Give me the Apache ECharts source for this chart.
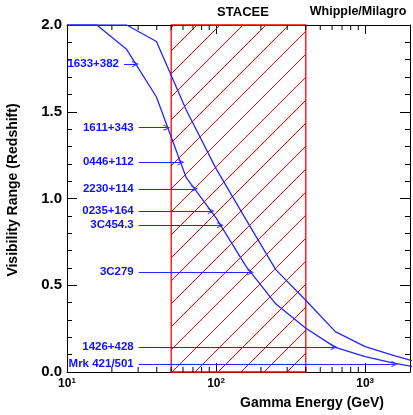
<!DOCTYPE html>
<html><head><meta charset="utf-8">
<script src="https://cdn.jsdelivr.net/npm/echarts@6/dist/echarts.min.js"></script>
<style>html,body{margin:0;padding:0;background:#fff}#c{width:413px;height:415px}</style>
</head><body><div id="c"></div>
<script>
// ---- data ----
const energyGeV   = [10, 15.85, 25.12, 39.81, 63.1, 100, 158.5, 251.2, 398.1, 631, 1000, 1585, 2512];
const lowerCurve  = [2.0, 2.0, 1.86, 1.585, 1.12, 0.888, 0.61, 0.393, 0.254, 0.142, 0.088, 0.050, 0.02];
const upperCurve  = [2.0, 2.0, 2.0, 1.905, 1.51, 1.172, 0.88, 0.59, 0.415, 0.233, 0.146, 0.093, 0.045];
const staceeRange = [50, 400];
const sourceNames    = ['1633+382','1611+343','0446+112','2230+114','0235+164','3C454.3','3C279','1426+428','Mrk 421/501'];
const sourceRedshift = [1.775, 1.408, 1.209, 1.056, 0.928, 0.846, 0.575, 0.144, 0.046];
const arrowStartGeV  = [24.1, 30.3, 30.3, 30.3, 30.3, 30.3, 30.3, 30.3, 30.3];
const arrowTipGeV    = [28.8, 46.7, 58.1, 71.8, 92.5, 106.6, 169.8, 618, 1578];
const xMinorTicks = [20,30,40,50,60,70,80,90,200,300,400,500,600,700,800,900];
const yTickLabels = ['0.0','0.5','1.0','1.5','2.0'];
const xRange = [10, 2000];
const yRange = [0, 2];

const FONT = "'Liberation Sans', Arial, sans-serif";
const BLUE = '#2424ff';
const RED = '#ff0000';
const HATCH_STEP = 23;   // px between hatch lines (horizontal)
const HATCH_PHASE = 15;  // (x + y) mod step

const chart = echarts.init(document.getElementById('c'), null, {renderer: 'canvas'});

function xLabel(v) {
  const e = Math.log10(v);
  if (Math.abs(e - Math.round(e)) > 1e-6) return '';
  return '{b|10}{s|' + Math.round(e) + '}';
}

const arrowData = sourceNames.map((n, i) => [
  {name: n, coord: [arrowStartGeV[i], sourceRedshift[i]]},
  {coord: [arrowTipGeV[i], sourceRedshift[i]]}
]);

const commonX = {
  type: 'log', logBase: 10, min: xRange[0], max: xRange[1],
  axisLine: {show: true, onZero: false, lineStyle: {color: '#000', width: 1}},
  axisTick: {show: true, inside: true, length: 9, lineStyle: {color: '#000'}},
  splitLine: {show: false}, minorTick: {show: false}
};
const commonY = {
  type: 'value', min: yRange[0], max: yRange[1], interval: 0.5,
  axisLine: {show: true, lineStyle: {color: '#000', width: 1}},
  axisTick: {show: true, inside: true, length: 10, lineStyle: {color: '#000'}},
  minorTick: {show: true, splitNumber: 5, length: 5, lineStyle: {color: '#000'}},
  splitLine: {show: false}, minorSplitLine: {show: false}
};

// pixel-exact (aliased) diagonal hatching inside the band
function renderHatch(params, api) {
  const p0 = api.coord([api.value(0), yRange[0]]);
  const p1 = api.coord([api.value(1), yRange[1]]);
  const x0 = p0[0], x1 = p1[0], yb = Math.round(p0[1]), yt = Math.round(p1[1]);
  let d = '';
  const cStart = Math.floor((x0 + yt) / HATCH_STEP) * HATCH_STEP + HATCH_PHASE - HATCH_STEP;
  for (let c = cStart; c <= x1 + yb + HATCH_STEP; c += HATCH_STEP) {
    for (let j = yt; j < yb; j++) {
      const i = c - 1 - j;
      if (i + 0.5 >= x0 && i + 0.5 <= x1) d += 'M' + i + ' ' + j + 'h1v1h-1z';
    }
  }
  return {type: 'group', children: [
    {type: 'path', shape: {pathData: d}, style: {fill: RED, stroke: null}},
    {type: 'rect', shape: {x: x0, y: p1[1], width: x1 - x0, height: p0[1] - p1[1]},
     style: {fill: null, stroke: RED, lineWidth: 1.3}}
  ]};
}

chart.setOption({
  animation: false,
  backgroundColor: '#fff',
  grid: {left: 67, top: 25, width: 348.6, height: 347, containLabel: false},
  xAxis: [
    Object.assign({}, commonX, {position: 'bottom',
      axisLabel: {show: true, margin: 5, formatter: xLabel,
        rich: {b: {fontSize: 12, fontWeight: 'bold', fontFamily: FONT, color: '#000', lineHeight: 14},
               s: {fontSize: 8, fontWeight: 'bold', fontFamily: FONT, color: '#000', verticalAlign: 'top', lineHeight: 9}}}}),
    Object.assign({}, commonX, {position: 'top', axisLabel: {show: false}})
  ],
  yAxis: [
    Object.assign({}, commonY, {position: 'left',
      axisLabel: {show: true, margin: 5, fontSize: 15, fontWeight: 'bold', fontFamily: FONT, color: '#000',
        formatter: v => yTickLabels[Math.round(v / 0.5)]}}),
    Object.assign({}, commonY, {position: 'right', axisLabel: {show: false}})
  ],
  graphic: [
    {type: 'text', x: 243, y: 12, silent: true, style: {text: 'STACEE', fontSize: 13, fontWeight: 'bold', fontFamily: FONT, fill: '#000', align: 'center', verticalAlign: 'middle'}},
    {type: 'text', x: 358, y: 12, silent: true, style: {text: 'Whipple/Milagro', fontSize: 12.5, fontWeight: 'bold', fontFamily: FONT, fill: '#000', align: 'center', verticalAlign: 'middle'}},
    {type: 'text', x: 312, y: 403, silent: true, style: {text: 'Gamma Energy (GeV)', fontSize: 14, fontWeight: 'bold', fontFamily: FONT, fill: '#000', align: 'center', verticalAlign: 'middle'}},
    {type: 'text', x: 13, y: 190, rotation: Math.PI / 2, silent: true, style: {text: 'Visibility Range (Redshift)', fontSize: 14, fontWeight: 'bold', fontFamily: FONT, fill: '#000', align: 'center', verticalAlign: 'middle'}}
  ],
  series: [
    {
      name: 'STACEE band', type: 'custom', z: 1, silent: true, clip: false,
      xAxisIndex: 0, yAxisIndex: 0,
      data: [[staceeRange[0], staceeRange[1]]],
      encode: {x: [0, 1]},
      renderItem: renderHatch
    },
    {
      name: 'upper', type: 'line', z: 3, symbol: 'none', silent: true, clip: true,
      lineStyle: {color: BLUE, width: 1.3},
      data: energyGeV.map((e, i) => [e, upperCurve[i]])
    },
    {
      name: 'lower', type: 'line', z: 3, symbol: 'none', silent: true, clip: true,
      lineStyle: {color: BLUE, width: 1.3},
      data: energyGeV.map((e, i) => [e, lowerCurve[i]]),
      markLine: {
        silent: true,
        symbol: ['none', 'path://M5,0 L10,9 L8.6,9.7 L5,2.8 L1.4,9.7 L0,9 Z'],
        symbolSize: [6, 7],
        precision: 6,
        lineStyle: {color: BLUE, width: 1, type: 'solid'},
        label: {show: true, position: 'start', distance: 5, formatter: '{b}', color: '#1010ff',
          fontSize: 11.5, fontWeight: 'bold', fontFamily: FONT},
        emphasis: {disabled: true},
        data: arrowData
      }
    },
    {
      name: 'minorTicks', type: 'custom', z: 5, silent: true, clip: false,
      xAxisIndex: 0, yAxisIndex: 0,
      data: xMinorTicks.map(v => [v, 0]),
      encode: {x: 0, y: 1},
      renderItem: function (params, api) {
        const v = api.value(0);
        const b = api.coord([v, yRange[0]]);
        const t = api.coord([v, yRange[1]]);
        return {type: 'group', children: [
          {type: 'line', shape: {x1: b[0], y1: b[1], x2: b[0], y2: b[1] - 5}, style: {stroke: '#000', lineWidth: 1}},
          {type: 'line', shape: {x1: t[0], y1: t[1], x2: t[0], y2: t[1] + 5}, style: {stroke: '#000', lineWidth: 1}}
        ]};
      }
    }
  ]
});
</script>
</body></html>
